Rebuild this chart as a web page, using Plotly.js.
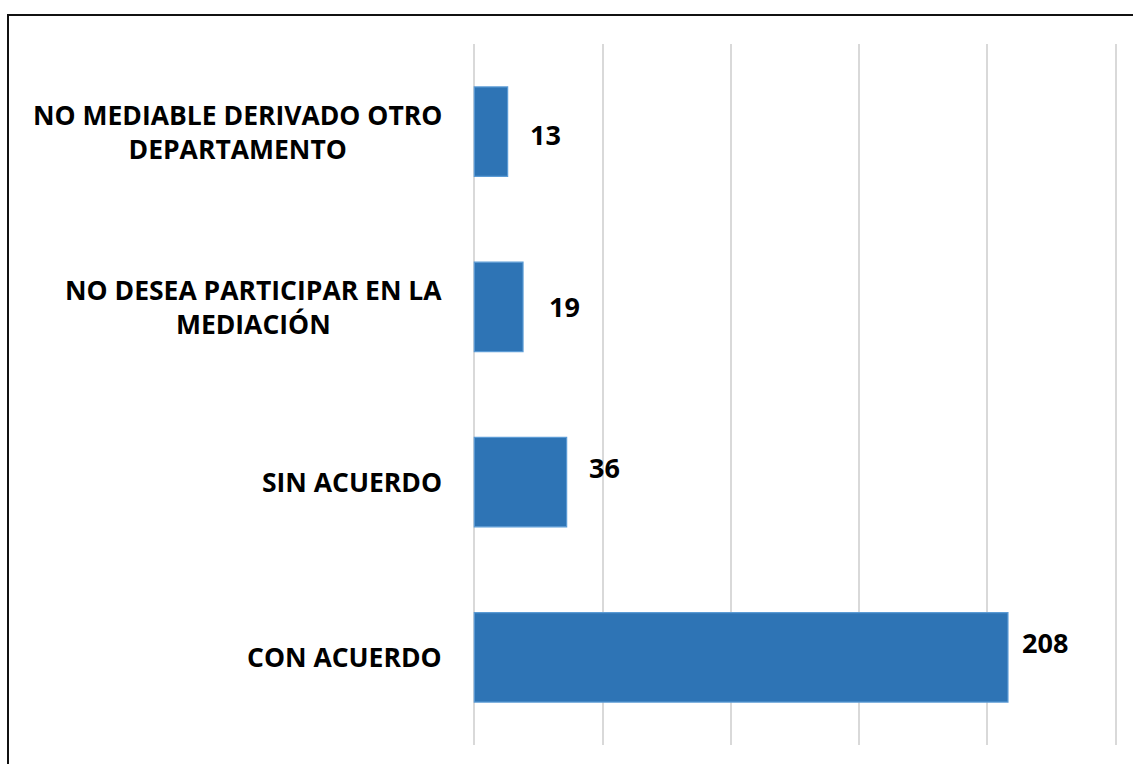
<!DOCTYPE html>
<html>
<head>
<meta charset="utf-8">
<script src="https://cdn.plot.ly/plotly-3.0.1.min.js"></script>
<style>
  html, body { margin: 0; padding: 0; background: #fff; overflow: hidden; }
  #chart { position: absolute; left: 0; top: 0; width: 1133px; height: 764px; }
  #frame { position: absolute; left: 7px; top: 14px; width: 1200px; height: 800px;
           border-top: 2px solid #111; border-left: 2px solid #111; pointer-events: none; }
</style>
</head>
<body>
<div id="chart"></div>
<div id="frame"></div>
<script>
// Data (top-to-bottom reading order)
const categories = [
  "NO MEDIABLE DERIVADO OTRO<br>DEPARTAMENTO",
  "NO DESEA PARTICIPAR EN LA<br>MEDIACIÓN",
  "SIN ACUERDO",
  "CON ACUERDO"
];
const values = [13, 19, 36, 208];
const valueLabels = ["13", "19", "36", "208"];
// small manual offsets (px) of the value labels, as placed in the original
const labelNudgeX = [0, 4, 0, -8];
const labelNudgeY = [-3, 0, 15, 15];
const xTicks = [0, 50, 100, 150, 200, 250];

const FONT = "'Open Sans', sans-serif";

const trace = {
  type: "bar",
  orientation: "h",
  x: values,
  y: categories,
  marker: { color: "#2E74B5", line: { color: "#5B9BD5", width: 1.2 } },
  hoverinfo: "skip"
};

const annotations = [];
categories.forEach((c, i) => {
  annotations.push({
    xref: "x", yref: "y", x: 0, y: c,
    xanchor: "right", yanchor: "middle", xshift: -30,
    text: "<b>" + c + "</b>", showarrow: false, align: "center",
    font: { family: FONT, size: 26.5, color: "#000" }
  });
  annotations.push({
    xref: "x", yref: "y", x: values[i], y: c,
    xanchor: "left", yanchor: "middle",
    xshift: 20 + labelNudgeX[i], yshift: labelNudgeY[i],
    text: "<b>" + valueLabels[i] + "</b>", showarrow: false,
    font: { family: FONT, size: 27, color: "#000" }
  });
});

const layout = {
  width: 1133, height: 764,
  margin: { l: 472.7, r: 15.7, t: 44, b: 19, pad: 0 },
  paper_bgcolor: "#fff", plot_bgcolor: "#fff",
  showlegend: false,
  bargap: 0.49,
  xaxis: {
    range: [-0.5, 250.5], tickvals: xTicks, showticklabels: false,
    showgrid: true, gridcolor: "#D9D9D9", gridwidth: 2,
    zeroline: false, showline: false, fixedrange: true
  },
  yaxis: {
    type: "category", autorange: "reversed", showticklabels: false,
    showgrid: false, zeroline: false, showline: false, fixedrange: true
  },
  annotations: annotations
};

Plotly.newPlot("chart", [trace], layout, { displayModeBar: false, staticPlot: true });
</script>
</body>
</html>
